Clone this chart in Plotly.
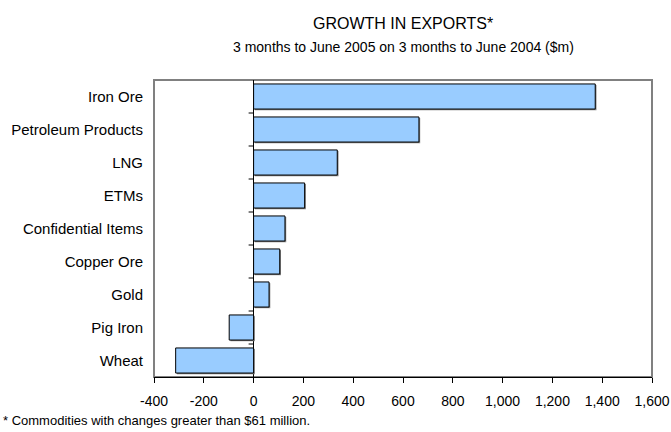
import plotly.graph_objects as go

categories = ["Iron Ore", "Petroleum Products", "LNG", "ETMs", "Confidential Items",
              "Copper Ore", "Gold", "Pig Iron", "Wheat"]
values = [1372, 664, 336, 205, 126, 105, 62, -98, -313]
tick_vals = [-400, -200, 0, 200, 400, 600, 800, 1000, 1200, 1400, 1600]
tick_text = ["-400", "-200", "0", "200", "400", "600", "800", "1,000", "1,200", "1,400", "1,600"]

FONT = "Liberation Sans, Arial, sans-serif"
BAR_W = 0.76
shadow_shift_x = 5  # data units (~1px)
shadow_shift_y = 0.035

fig = go.Figure()
# shadow
fig.add_trace(go.Bar(
    y=categories, x=values, base=[shadow_shift_x] * len(values), orientation="h",
    width=BAR_W, offset=-BAR_W / 2 + shadow_shift_y,
    marker=dict(color="#7f7f7f", line=dict(width=0)), hoverinfo="skip", showlegend=False))
fig.add_trace(go.Bar(
    y=categories, x=values, orientation="h", width=BAR_W, offset=-BAR_W / 2,
    marker=dict(color="#99ccff", line=dict(color="#000000", width=1)), showlegend=False))

# category boundary ticks on the zero line
shapes = []
for i in range(len(categories) - 1):
    shapes.append(dict(type="line", xref="x", yref="y", x0=-20, x1=0, y0=i + 0.5, y1=i + 0.5,
                       line=dict(color="black", width=1)))
# plot frame (gray)
shapes.append(dict(type="rect", xref="x domain", yref="y domain", x0=0, x1=1, y0=0, y1=1,
                   line=dict(color="#808080", width=2), layer="below"))

fig.update_layout(
    width=671, height=432,
    margin=dict(l=154, r=19, t=80, b=55),
    paper_bgcolor="white", plot_bgcolor="white",
    font=dict(family=FONT, size=14, color="black"),
    barmode="overlay",
    shapes=shapes,
    annotations=[
        dict(text="GROWTH IN EXPORTS*", x=0.5, y=1, xref="paper", yref="paper", xanchor="center",
             yanchor="top", yshift=67, showarrow=False, font=dict(size=16)),
        dict(text="3 months to June 2005 on 3 months to June 2004 ($m)", x=0.5, y=1, xref="paper",
             yref="paper", xanchor="center", yanchor="top", yshift=43, showarrow=False,
             font=dict(size=14)),
        dict(text="* Commodities with changes greater than $61 million.", x=0, y=0, xref="paper",
             yref="paper", xanchor="left", yanchor="bottom", xshift=-153, yshift=-53,
             showarrow=False, font=dict(size=13)),
    ],
    xaxis=dict(range=[-400, 1600], tickvals=tick_vals, ticktext=tick_text, showgrid=False,
               zeroline=True, zerolinecolor="black", zerolinewidth=1, automargin=False,
               showline=True, linecolor="black", linewidth=1, ticks="outside", ticklen=5,
               tickcolor="black", ticklabelstandoff=6, tickfont=dict(size=14)),
    yaxis=dict(autorange="reversed", showgrid=False, zeroline=False, showline=False,
               automargin=False, ticks="", ticklabelstandoff=10, tickfont=dict(size=15)),
)

fig.write_html("out.html")
